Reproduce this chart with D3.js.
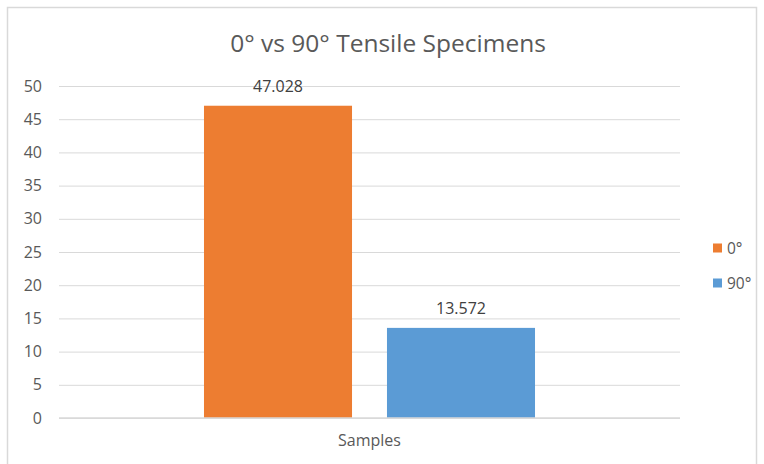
<!DOCTYPE html>
<html><head><meta charset="utf-8">
<script src="https://cdn.jsdelivr.net/npm/d3@7"></script>
<style>body{margin:0;background:#fff}svg{display:block}text{font-family:"Open Sans","Noto Sans",sans-serif}</style>
</head><body><svg id="c" width="764" height="464"></svg>
<script>
const categories = ["Samples"];
const seriesNames = ["0°", "90°"];
const seriesValues = [47.028, 13.572];
const seriesColors = ["#ED7D31", "#5B9BD5"];
const yTicks = [0, 5, 10, 15, 20, 25, 30, 35, 40, 45, 50];
const title = "0° vs 90° Tensile Specimens";

const svg = d3.select("#c");
svg.append("rect").attr("x", 7.5).attr("y", 7.5).attr("width", 749).attr("height", 470)
  .attr("fill", "#fff").attr("stroke", "#d9d9d9").attr("stroke-width", 1.5);

const m = {left: 59, right: 680, top: 86, bottom: 418};
const y = d3.scaleLinear().domain([0, 50]).range([m.bottom, m.top]);
const x0 = d3.scaleBand().domain(categories).range([m.left, m.right]).paddingInner(0).paddingOuter(0.438);
const x1 = d3.scaleBand().domain(seriesNames).range([0, x0.bandwidth()]).paddingInner(0.191).paddingOuter(0);

// gridlines
const yAxis = d3.axisLeft(y).tickValues(yTicks).tickSize(-(m.right - m.left)).tickPadding(17);
const ga = svg.append("g").attr("transform", `translate(${m.left},0)`).call(yAxis);
ga.select(".domain").remove();
ga.selectAll(".tick line").attr("stroke", "#d9d9d9").attr("stroke-width", 1);
ga.selectAll(".tick text").attr("fill", "#595959").attr("font-size", 16).attr("font-family", "'Open Sans','Noto Sans',sans-serif");

// bars
const g = svg.append("g");
categories.forEach(cat => {
  seriesNames.forEach((s, i) => {
    const v = seriesValues[i];
    const bx = x0(cat) + x1(s);
    g.append("rect").attr("x", bx).attr("y", y(v)).attr("width", x1.bandwidth())
      .attr("height", y(0) - y(v)).attr("fill", seriesColors[i]);
    g.append("text").attr("x", bx + x1.bandwidth() / 2).attr("y", y(v) - 14)
      .attr("text-anchor", "middle").attr("fill", "#404040").attr("font-size", 16)
      .text(v.toFixed(3));
  });
});

// baseline
svg.append("line").attr("x1", m.left).attr("x2", m.right).attr("y1", y(0)).attr("y2", y(0))
  .attr("stroke", "#d9d9d9").attr("stroke-width", 1.5);

// x axis
const xAxis = d3.axisBottom(x0).tickSize(0).tickPadding(17);
const gx = svg.append("g").attr("transform", `translate(0,${m.bottom})`).call(xAxis);
gx.select(".domain").remove();
gx.selectAll("text").attr("fill", "#595959").attr("font-size", 16).attr("font-family", "'Open Sans','Noto Sans',sans-serif");

// title
svg.append("text").attr("x", 388).attr("y", 52).attr("text-anchor", "middle")
  .attr("fill", "#595959").attr("font-size", 24.5).text(title);

// legend
const lg = svg.append("g").attr("transform", "translate(713,0)");
seriesNames.forEach((s, i) => {
  const yy = 248 + i * 35;
  lg.append("rect").attr("x", 0).attr("y", yy - 4.5).attr("width", 9).attr("height", 9).attr("fill", seriesColors[i]);
  lg.append("text").attr("x", 14).attr("y", yy + 5.5).attr("fill", "#595959").attr("font-size", 15.5).text(s);
});
</script></body></html>
